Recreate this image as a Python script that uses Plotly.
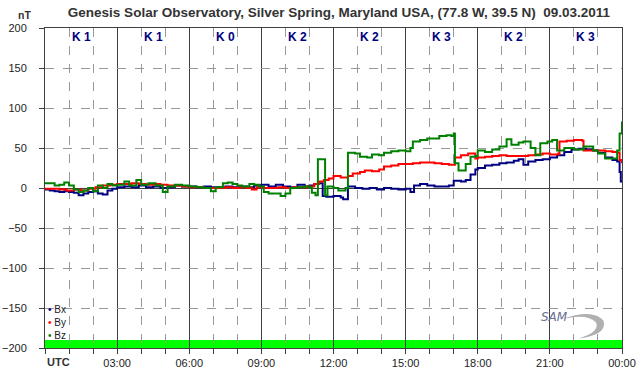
import plotly.graph_objects as go

# ---------------- data ----------------
title_text = "Genesis Solar Observatory, Silver Spring, Maryland USA, (77.8 W, 39.5 N)\u00a0 09.03.2011"

bx_hours = [0.0, 0.2, 0.4, 0.6, 0.8, 1.0, 1.2, 1.4, 1.6, 1.8, 2.0, 2.2, 2.4, 2.6, 2.8,
            3.0, 3.3, 3.6, 3.9, 4.2, 4.5, 4.8, 5.1, 5.4, 5.7, 6.0, 6.3, 6.6, 6.9, 7.2,
            7.5, 7.8, 8.1, 8.4, 8.7, 9.0, 9.3, 9.6, 9.9, 10.2, 10.5, 10.8, 11.0, 11.2,
            11.4, 11.55, 11.7, 12.0, 12.3, 12.4, 12.6, 12.9, 13.2, 13.5, 13.8, 14.1,
            14.4, 14.7, 15.0, 15.2, 15.35, 15.6, 15.9, 16.2, 16.5, 16.8, 17.0, 17.3,
            17.5, 17.7, 17.9, 18.0, 18.3, 18.6, 18.9, 19.2, 19.5, 19.7, 19.9, 20.1,
            20.4, 20.7, 21.0, 21.3, 21.6, 21.9, 22.2, 22.5, 22.8, 23.0, 23.3, 23.6,
            23.8, 23.9, 23.95, 24.0]
bx_values = [-2, -3, -4, -5, -4, -5, -6, -9, -7, -5, -4, -7, -8, -3, -1,
             1, 2, 1, 3, 1, 2, 0, 1, 3, 2, 2, 1, 2, 1, 1,
             2, 1, 2, 1, 3, 4, 2, 4, 2, 1, 4, 2, 3, 5,
             6, -10, -11, -10, -12, -14, 2, 0, -1, 0, -2, 0,
             -1, -2, -1, -5, 3, 5, 3, 2, 2, 3, 9, 8,
             10, 17, 23, 25, 28, 29, 31, 32, 34, 36, 29, 33,
             35, 36, 38, 41, 45, 48, 49, 48, 47, 44, 38, 35,
             33, 20, 8, 8]

by_hours = [0.0, 0.3, 0.6, 0.9, 1.2, 1.5, 1.8, 2.1, 2.4, 2.7, 3.0, 3.3, 3.6, 3.9,
            4.2, 4.5, 4.8, 5.1, 5.4, 5.7, 6.0, 6.3, 6.6, 6.9, 7.2, 7.5, 7.8, 8.1,
            8.4, 8.6, 8.8, 9.1, 9.4, 9.7, 10.0, 10.3, 10.6, 10.9, 11.2, 11.4, 11.6,
            11.8, 12.0, 12.3, 12.6, 12.8, 13.1, 13.3, 13.6, 13.9, 14.1, 14.4, 14.7,
            15.0, 15.3, 15.6, 15.9, 16.2, 16.5, 16.8, 17.0, 17.05, 17.3, 17.6, 17.9,
            18.0, 18.3, 18.6, 18.9, 19.2, 19.5, 19.8, 20.1, 20.4, 20.7, 21.0, 21.35,
            21.4, 21.7, 22.0, 22.35, 22.4, 22.7, 23.0, 23.3, 23.6, 23.8, 23.9, 24.0]
by_values = [-1, -1, -2, -3, -2, -3, -1, 1, 3, 4, 5, 5, 6, 5,
             4, 5, 4, 3, 3, 2, 1, 1, 0, 0, 0, 1, 0, 1,
             0, -2, 1, 0, 0, 1, 0, 1, 1, 2, 5, 8, 10,
             12, 15, 13, 15, 18, 20, 22, 21, 23, 27, 28, 30,
             30, 31, 32, 32, 31, 30, 29, 29, 38, 41, 43, 37,
             38, 39, 40, 41, 40, 40, 40, 41, 42, 43, 42, 43,
             58, 59, 60, 59, 47, 47, 47, 46, 45, 44, 35, 31]

bz_hours = [0.0, 0.2, 0.4, 0.6, 0.8, 1.0, 1.2, 1.4, 1.6, 1.8, 2.0, 2.2, 2.4, 2.6,
            2.8, 3.0, 3.3, 3.5, 3.8, 4.0, 4.3, 4.6, 4.9, 5.1, 5.4, 5.7, 6.0, 6.3,
            6.6, 6.9, 7.1, 7.4, 7.6, 7.8, 8.0, 8.2, 8.5, 8.7, 8.9, 9.1, 9.3, 9.6,
            9.8, 10.0, 10.2, 10.5, 10.8, 11.0, 11.1, 11.25, 11.35, 11.6, 11.65,
            11.75, 12.0, 12.2, 12.5, 12.6, 12.9, 13.1, 13.4, 13.6, 13.9, 14.1,
            14.4, 14.7, 15.0, 15.2, 15.3, 15.6, 15.9, 16.2, 16.4, 16.7, 16.9, 17.0,
            17.05, 17.2, 17.5, 17.7, 17.9, 18.0, 18.3, 18.6, 18.9, 19.2, 19.4, 19.7,
            19.9, 20.2, 20.4, 20.6, 20.9, 21.1, 21.3, 21.6, 22.0, 22.4, 22.8, 23.0,
            23.3, 23.6, 23.8, 23.9, 24.0]
bz_values = [6, 6, 3, 4, 7, 3, -2, -5, -3, 0, -4, 3, 0, 5,
             3, 4, 8, 3, 10, 4, 6, 3, -5, 2, 4, 3, 2, 1,
             0, -4, 1, 6, 7, 5, 3, 2, 5, 4, 2, -5, -7, -7,
             -10, -7, 0, 1, 2, 1, -6, -9, 36, 36, -9,
             2, 0, -3, 0, 44, 43, 39, 38, 42, 41, 44,
             46, 47, 46, 50, 58, 60, 62, 62, 65, 66, 65, 68,
             31, 22, 30, 39, 40, 47, 45, 48, 52, 61, 54, 57,
             58, 50, 41, 56, 58, 60, 47, 50, 48, 52, 47, 43,
             37, 37, 47, 68, 83]

series_names = ["Bx", "By", "Bz"]
series_colors = ["#000080", "#FF0000", "#008000"]

k_index = [1, 1, 0, 2, 2, 3, 2, 3]
tick_hours = [0, 3, 6, 9, 12, 15, 18, 21, 24]
tick_labels = ["", "03:00", "06:00", "09:00", "12:00", "15:00", "18:00", "21:00", "00:00"]
y_range = [-200, 200]
status_band = [-200, -190]

FONT = "Liberation Sans, Arial, sans-serif"

# ---------------- figure ----------------
fig = go.Figure()

for name, color, xs, ys in zip(series_names, series_colors,
                               [bx_hours, by_hours, bz_hours],
                               [bx_values, by_values, bz_values]):
    fig.add_trace(go.Scatter(x=xs, y=ys, mode="lines", line=dict(color=color, width=2, shape="hv"),
                             name=name, showlegend=False, hoverinfo="skip"))

# green status band at the bottom
fig.add_shape(type="rect", xref="x", yref="y", x0=tick_hours[0], x1=tick_hours[-1],
              y0=status_band[0], y1=status_band[1], fillcolor="#00FF00",
              line=dict(width=0), layer="below")

# K index labels
for i, k in enumerate(k_index):
    fig.add_annotation(x=tick_hours[i] + 1.5, y=189, xref="x", yref="y",
                       text=f"<b>K {k}</b>", showarrow=False,
                       font=dict(family=FONT, size=12, color="#000080"))

# legend (compact, as in the original)
legend_text = "<br>".join(f"<span style='color:{c}'>\u2022</span> {n}"
                          for n, c in zip(series_names, series_colors))
fig.add_annotation(x=0.002, y=0.145, xref="paper", yref="paper", xanchor="left", yanchor="top",
                   text=legend_text, showarrow=False, align="left",
                   font=dict(family=FONT, size=10, color="#222222"))

fig.add_annotation(x=0, y=-0.02, xref="paper", yref="paper", xanchor="left", yanchor="top",
                   text="<b>UTC</b>", showarrow=False,
                   font=dict(family=FONT, size=11, color="#333333"))
fig.add_annotation(x=-0.0485, y=1.062, xref="paper", yref="paper", text="<b>nT</b>", showarrow=False,
                   borderpad=0, font=dict(family=FONT, size=10.5, color="#333333"))

# SAM logo
fig.add_shape(type="path", xref="paper", yref="paper",
              path="M 0.895 0.09 Q 0.95 0.125 0.968 0.085 Q 0.975 0.04 0.925 0.03 Q 0.962 0.05 0.955 0.08 Q 0.94 0.11 0.895 0.09 Z",
              fillcolor="#b0b0b0", line=dict(width=0), layer="above")
fig.add_annotation(x=0.91, y=0.068, xref="paper", yref="paper", text="<i>SAM</i>", showarrow=False,
                   font=dict(family="DejaVu Sans", size=12, color="#6a7090"))

fig.update_layout(
    width=642, height=376,
    margin=dict(l=45, r=20, t=28, b=28, autoexpand=False),
    paper_bgcolor="white", plot_bgcolor="white",
    title=dict(text=f"<b>{title_text}</b>", x=0.528, xref="container", xanchor="center",
               y=0.968, yref="container", yanchor="middle",
               font=dict(family=FONT, size=13.5, color="#333333")),
    font=dict(family=FONT, size=11, color="#222222"),
    showlegend=False,
    xaxis=dict(range=[tick_hours[0], tick_hours[-1]], tickvals=tick_hours, ticktext=tick_labels,
               showgrid=True, gridcolor="#404040", gridwidth=1,
               showline=True, linecolor="#404040", linewidth=1, mirror=True,
               ticks="outside", ticklen=5, tickcolor="#404040", zeroline=False,
               minor=dict(dtick=1, showgrid=True, gridcolor="#999999", griddash="dash",
                          ticks="outside", ticklen=5, tickcolor="#404040")),
    yaxis=dict(range=y_range, dtick=50, tick0=0,
               showgrid=True, gridcolor="#999999", griddash="dash", gridwidth=1,
               showline=True, linecolor="#404040", linewidth=1, mirror=True,
               zeroline=True, zerolinecolor="#404040", zerolinewidth=1,
               ticks="outside", ticklen=5, tickcolor="#404040", ticklabelstandoff=10),
)

fig.write_html("out.html", config={"displayModeBar": False},
               post_script="document.body.style.margin='0px';")
